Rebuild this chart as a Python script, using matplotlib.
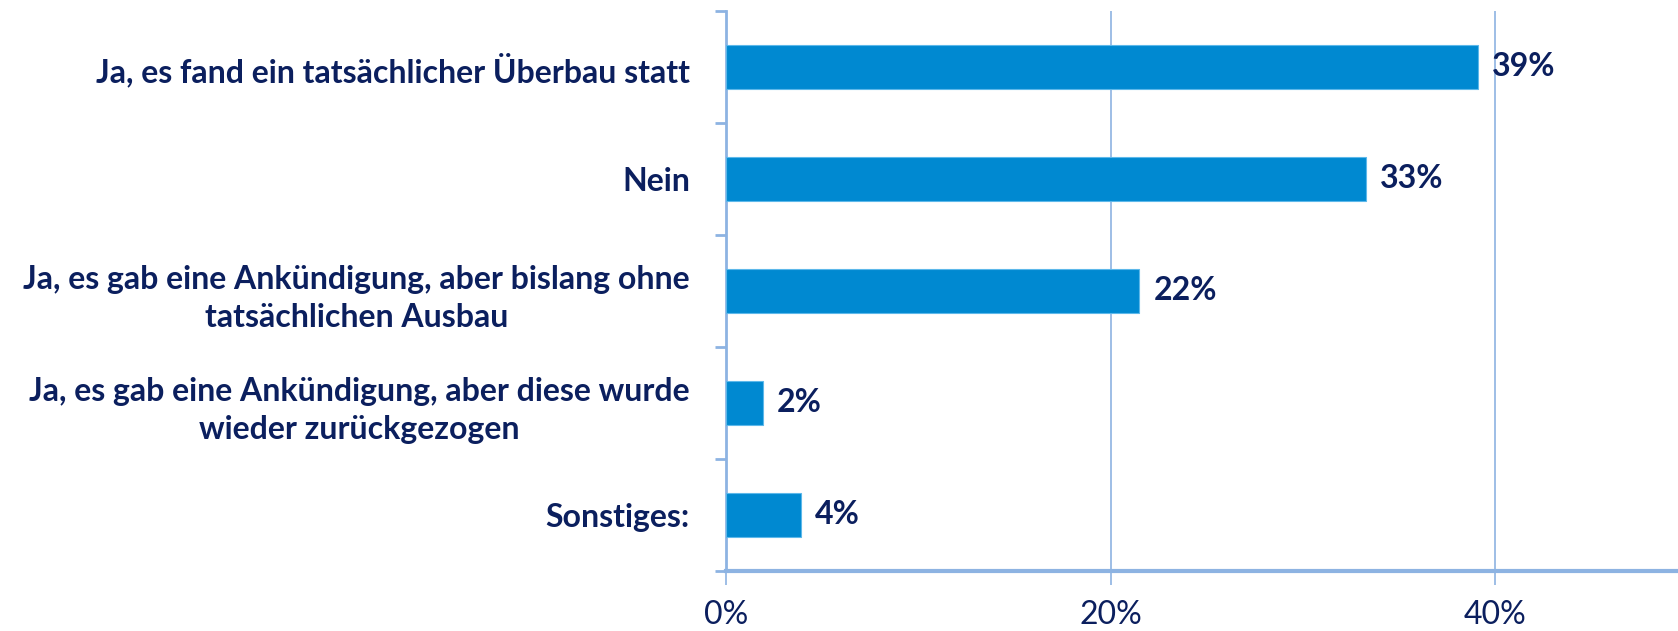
import matplotlib
matplotlib.use("Agg")
import matplotlib.pyplot as plt
from matplotlib.ticker import FixedLocator

categories = [
    "Ja, es fand ein tatsächlicher Überbau statt",
    "Nein",
    "Ja, es gab eine Ankündigung, aber bislang ohne\ntatsächlichen Ausbau",
    "Ja, es gab eine Ankündigung, aber diese wurde\nwieder zurückgezogen",
    "Sonstiges:",
]
values = [39.1, 33.3, 21.5, 1.9, 3.9]
value_labels = ["39%", "33%", "22%", "2%", "4%"]
xticks = [0, 20, 40]
xtick_labels = ["0%", "20%", "40%"]

navy = "#0B1F5E"
axis_blue = "#8DB3E2"
bar_blue = "#0089D1"

plt.rcParams['font.family'] = ['Lato', 'DejaVu Sans']

fig = plt.figure(figsize=(16.78, 6.31), dpi=100)
ax = fig.add_axes([726/1678, 1 - 571/631, 1 - 726/1678, (571 - 11)/631])

n = len(categories)
ypos = list(range(n))[::-1]
ax.barh(ypos, values, height=0.4, color=bar_blue, edgecolor="#5DB8EA", linewidth=0.8, zorder=3)

ax.set_ylim(-0.5, n - 0.5)
ax.set_xlim(0, 49.5)

for y, v, lab in zip(ypos, values, value_labels):
    ax.annotate(lab, (v, y), xytext=(10, 0), textcoords="offset points",
                ha="left", va="center", fontsize=23, fontweight="bold", color=navy)

ax.set_yticks(ypos)
ax.set_yticklabels(categories, fontsize=23, fontweight="bold", color=navy,
                   multialignment="center", linespacing=1.4)
ax.tick_params(axis="y", which="major", length=0, pad=26)
ax.yaxis.set_minor_locator(FixedLocator([i + 0.5 for i in range(-1, n)]))
ax.tick_params(axis="y", which="minor", length=8, width=2, color=axis_blue)

ax.set_xticks(xticks)
ax.set_xticklabels(xtick_labels, fontsize=23, color=navy)
ax.tick_params(axis="x", length=10, width=1.2, color=axis_blue, pad=11)
ax.xaxis.grid(True, color=axis_blue, linewidth=1.2, zorder=0)
ax.set_axisbelow(True)

for s in ["top", "right"]:
    ax.spines[s].set_visible(False)
ax.spines["left"].set_color(axis_blue)
ax.spines["left"].set_linewidth(2)
ax.spines["bottom"].set_color(axis_blue)
ax.spines["bottom"].set_linewidth(3)

fig.savefig("out.png", dpi=100, facecolor="white")
